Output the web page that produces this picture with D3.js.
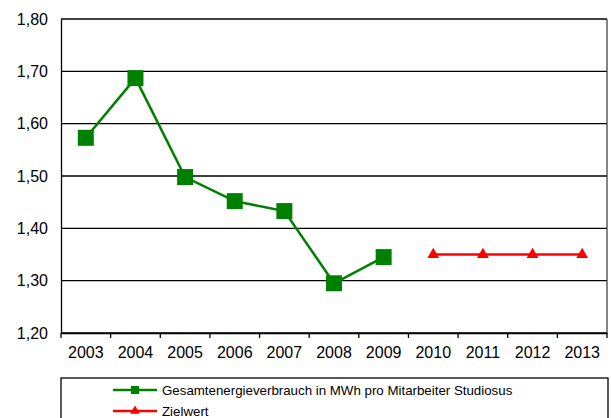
<!DOCTYPE html>
<html><head><meta charset="utf-8">
<script src="https://cdn.jsdelivr.net/npm/d3@7"></script>
<style>body{margin:0;background:#fff}svg{display:block}text{font-family:"Liberation Sans",Arial,sans-serif;fill:#000}</style>
</head><body><svg id="c" width="611" height="418"></svg>
<script>
const years = ["2003","2004","2005","2006","2007","2008","2009","2010","2011","2012","2013"];
const actualYears = ["2003","2004","2005","2006","2007","2008","2009"];
const actualValues = [1.573, 1.687, 1.498, 1.452, 1.433, 1.295, 1.345];
const targetYears = ["2010","2011","2012","2013"];
const targetValues = [1.35, 1.35, 1.35, 1.35];
const yTicks = [1.2, 1.3, 1.4, 1.5, 1.6, 1.7, 1.8];
const seriesNames = ["Gesamtenergieverbrauch in MWh pro Mitarbeiter Studiosus", "Zielwert"];

const svg = d3.select("#c");
const L = 61, R = 607, T = 19, B = 333;
const x = d3.scaleBand().domain(years).range([L, R]);
const y = d3.scaleLinear().domain([1.2, 1.8]).range([B, T]);
const fmt = d => d.toFixed(2).replace(".", ",");

// gridlines
svg.append("g").selectAll("line").data(yTicks).join("line")
  .attr("x1", L).attr("x2", R).attr("y1", d => y(d)).attr("y2", d => y(d))
  .attr("stroke", "#000").attr("stroke-width", 1.3);
// right border
svg.append("line").attr("x1", R).attr("x2", R).attr("y1", T).attr("y2", B).attr("stroke", "#444").attr("stroke-width", 1.3);

// y axis
const ya = svg.append("g").attr("transform", `translate(${L},0)`)
  .call(d3.axisLeft(y).tickValues(yTicks).tickFormat(fmt).tickSize(0).tickPadding(13));
ya.select(".domain").attr("stroke", "#000").attr("stroke-width", 1.3);
ya.selectAll("text").style("font-size", "16px").style("font-family", "Liberation Sans, Arial, sans-serif");

// x axis
const xa = svg.append("g").attr("transform", `translate(0,${B})`)
  .call(d3.axisBottom(x).tickSize(0).tickPadding(14));
xa.select(".domain").attr("stroke", "#000").attr("stroke-width", 1.3);
xa.selectAll("text").style("font-size", "16px").style("font-family", "Liberation Sans, Arial, sans-serif");
const tickPos = years.map(d => x(d)).concat([R]);
xa.append("g").selectAll("line").data(tickPos).join("line")
  .attr("x1", d => d).attr("x2", d => d).attr("y1", 0).attr("y2", 5)
  .attr("stroke", "#000").attr("stroke-width", 1.3);

const cx = d => x(d) + x.bandwidth() / 2;
const green = "#008000", red = "#ff0000";

// actual line
const act = actualYears.map((d, i) => [d, actualValues[i]]);
svg.append("path").datum(act)
  .attr("d", d3.line().x(d => cx(d[0])).y(d => y(d[1])))
  .attr("fill", "none").attr("stroke", green).attr("stroke-width", 2.5);
svg.append("g").selectAll("rect").data(act).join("rect")
  .attr("x", d => cx(d[0]) - 8).attr("y", d => y(d[1]) - 8)
  .attr("width", 16).attr("height", 16).attr("fill", green);

// target line
const tgt = targetYears.map((d, i) => [d, targetValues[i]]);
svg.append("path").datum(tgt)
  .attr("d", d3.line().x(d => cx(d[0])).y(d => y(d[1])))
  .attr("fill", "none").attr("stroke", red).attr("stroke-width", 2.5);
const tri = d3.symbol().type(d3.symbolTriangle).size(60);
svg.append("g").selectAll("path").data(tgt).join("path")
  .attr("d", tri).attr("transform", d => `translate(${cx(d[0])},${y(d[1])})`)
  .attr("fill", red);

// legend
svg.append("rect").attr("x", L).attr("y", 378).attr("width", R - L + 1).attr("height", 60)
  .attr("fill", "none").attr("stroke", "#000").attr("stroke-width", 1.3);
const leg = svg.append("g");
[[green, "sq"], [red, "tri"]].forEach((s, i) => {
  const ly = 390 + i * 21;
  leg.append("line").attr("x1", 113).attr("x2", 157).attr("y1", ly).attr("y2", ly)
    .attr("stroke", s[0]).attr("stroke-width", 2.5);
  if (s[1] === "sq") leg.append("rect").attr("x", 131).attr("y", ly - 4).attr("width", 8).attr("height", 8).attr("fill", s[0]);
  else leg.append("path").attr("d", d3.symbol().type(d3.symbolTriangle).size(40)).attr("transform", `translate(135,${ly})`).attr("fill", s[0]);
  leg.append("text").attr("x", 162).attr("y", ly + 5).style("font-size", "13.3px").text(seriesNames[i]);
});
</script></body></html>
